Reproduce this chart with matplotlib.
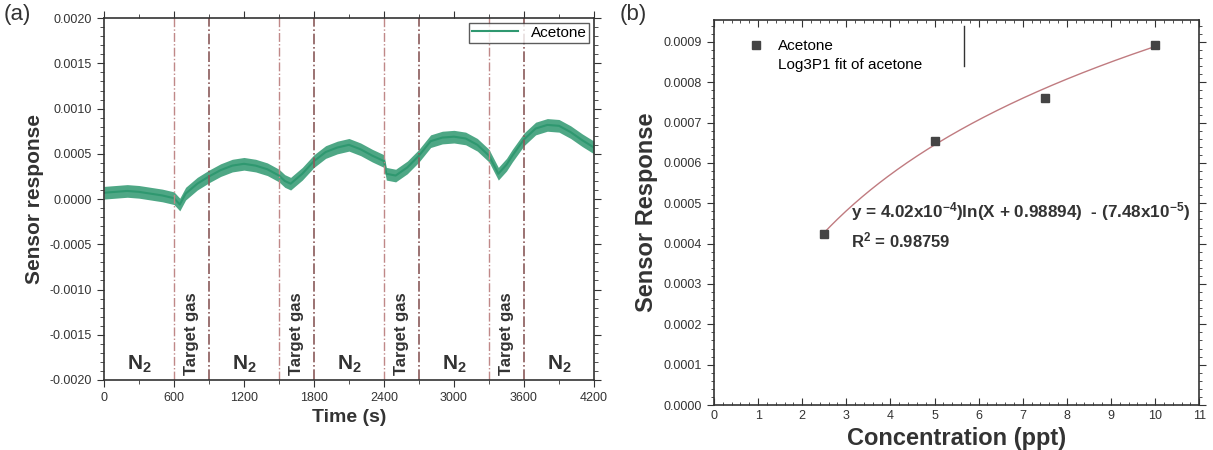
import numpy as np
import matplotlib
matplotlib.use("Agg")
import matplotlib.pyplot as plt
from matplotlib.ticker import MultipleLocator
from matplotlib.lines import Line2D

plt.rcParams['font.family'] = ['Liberation Sans', 'DejaVu Sans']
plt.rcParams['mathtext.fontset'] = 'custom'
plt.rcParams['mathtext.rm'] = 'Liberation Sans'
plt.rcParams['mathtext.it'] = 'Liberation Sans:italic'
plt.rcParams['mathtext.bf'] = 'Liberation Sans:bold'

# ---------------- Data ----------------
time_s = [0, 100, 200, 300, 400, 500, 600, 650, 700, 800, 900, 1000, 1100, 1200,
          1300, 1400, 1500, 1550, 1600, 1700, 1800, 1900, 2000, 2100, 2200, 2300,
          2400, 2420, 2500, 2600, 2700, 2800, 2900, 3000, 3100, 3200, 3300, 3380,
          3450, 3500, 3600, 3700, 3800, 3900, 4000, 4100, 4200]
response = [0.00007, 0.00008, 0.00009, 0.00008, 0.00006, 0.00004, 0.00001, -0.00006,
            0.00006, 0.00017, 0.00025, 0.00032, 0.00037, 0.00039, 0.00037, 0.00033,
            0.00026, 0.00020, 0.00017, 0.00028, 0.00042, 0.00052, 0.00057, 0.00060,
            0.00055, 0.00048, 0.00042, 0.00028, 0.00026, 0.00035, 0.00048, 0.00064,
            0.00068, 0.00069, 0.00067, 0.00060, 0.00048, 0.00028, 0.00038, 0.00048,
            0.00066, 0.00078, 0.00082, 0.00081, 0.00074, 0.00065, 0.00057]
noise_half_width = 0.00007

gas_on = [600, 1500, 2400, 3300]
gas_off = [900, 1800, 2700, 3600]
n2_centers = [300, 1200, 2100, 3000, 3900]
target_centers = [750, 1650, 2550, 3450]

conc_ppt = [2.5, 5.0, 7.5, 10.0]
sensor_resp = [0.000423, 0.000655, 0.000762, 0.000893]
fit_a, fit_b, fit_c = 4.02e-4, 0.98894, -7.48e-5

green = '#2f9870'
ink = '#333333'

fig = plt.figure(figsize=(12.13, 4.5), dpi=100)

# ---------------- Panel (a) ----------------
ax1 = fig.add_axes([0.0857, 0.1556, 0.404, 0.804])
t = np.array(time_s)
r = np.array(response)
ax1.fill_between(t, r - noise_half_width, r + noise_half_width, color=green,
                 alpha=0.85, lw=0)
ax1.plot(t, r, color=green, lw=1.5, label='Acetone')
for x in gas_on:
    ax1.axvline(x, color='#c08888', ls='-.', lw=1.0)
for x in gas_off:
    ax1.axvline(x, color='#8a5a5a', ls='-.', lw=1.2)
for x in n2_centers:
    ax1.text(x, -0.00183, r'N$_{\mathbf{2}}$', ha='center', va='center',
             fontsize=15, fontweight='bold', color=ink)
for x in target_centers:
    ax1.text(x, -0.00195, 'Target gas', rotation=90, ha='center', va='bottom',
             fontsize=12, fontweight='bold', color=ink)
ax1.set_xlim(0, 4200)
ax1.set_ylim(-0.0020, 0.0020)
ax1.xaxis.set_major_locator(MultipleLocator(600))
ax1.xaxis.set_minor_locator(MultipleLocator(300))
ax1.yaxis.set_major_locator(MultipleLocator(0.0005))
ax1.yaxis.set_minor_locator(MultipleLocator(0.0001))
ax1.yaxis.set_major_formatter(matplotlib.ticker.FormatStrFormatter('%.4f'))
ax1.tick_params(which='both', direction='out', top=True, right=True,
                labelsize=9, colors=ink)
ax1.tick_params(which='major', length=5)
ax1.tick_params(which='minor', length=3)
ax1.set_xlabel('Time (s)', fontsize=14, fontweight='bold', color=ink)
ax1.set_ylabel('Sensor response', fontsize=15, fontweight='bold', color=ink)
leg = ax1.legend(loc='upper right', fontsize=11, frameon=True, fancybox=False,
                 edgecolor=ink, handlelength=3, borderaxespad=0.3,
                 borderpad=0.2)
leg.get_frame().set_linewidth(1.0)
for s in ax1.spines.values():
    s.set_color(ink)
    s.set_linewidth(1.2)
fig.text(0.003, 0.955, '(a)', fontsize=16, color=ink)

# ---------------- Panel (b) ----------------
ax2 = fig.add_axes([0.5886, 0.1, 0.40, 0.856])
xs = np.linspace(conc_ppt[0], conc_ppt[-1], 200)
ax2.plot(xs, fit_a * np.log(xs + fit_b) + fit_c, color='#c07b80', lw=1.0)
ax2.plot(conc_ppt, sensor_resp, 's', color='#444444', ms=6)
ax2.set_xlim(0, 11)
ax2.set_ylim(0.0, 0.000955)
ax2.xaxis.set_major_locator(MultipleLocator(1))
ax2.xaxis.set_minor_locator(MultipleLocator(0.2))
ax2.yaxis.set_major_locator(MultipleLocator(0.0001))
ax2.yaxis.set_minor_locator(MultipleLocator(0.00002))
ax2.yaxis.set_major_formatter(matplotlib.ticker.FormatStrFormatter('%.4f'))
ax2.tick_params(which='both', top=True, right=True, labelsize=9, colors=ink)
ax2.tick_params(axis='x', which='both', direction='in')
ax2.tick_params(axis='y', which='both', direction='out')
ax2.tick_params(which='major', length=5)
ax2.tick_params(which='minor', length=2.5)
ax2.set_xlabel('Concentration (ppt)', fontsize=17, fontweight='bold', color=ink)
ax2.set_ylabel('Sensor Response', fontsize=17, fontweight='bold', color=ink)
handles = [Line2D([], [], marker='s', ls='none', color='#444444', ms=6),
           Line2D([], [], ls='none')]
leg2 = ax2.legend(handles, ['Acetone', 'Log3P1 fit of acetone'], loc='upper left',
                  bbox_to_anchor=(0.04, 0.985), fontsize=11, frameon=False,
                  handlelength=1.2, labelspacing=0.3)
ax2.plot([0.515, 0.515], [0.88, 0.985], transform=ax2.transAxes, color=ink, lw=1.0)
ax2.text(3.1, 0.000479,
         r'y = 4.02x10$^{\mathbf{-4}}$)ln(X + 0.98894)  - (7.48x10$^{\mathbf{-5}}$)',
         fontsize=12.3, fontweight='bold', color=ink, va='center')
ax2.text(3.1, 0.000409, r'R$^{\mathbf{2}}$ = 0.98759', fontsize=12,
         fontweight='bold', color=ink, va='center')
for s in ax2.spines.values():
    s.set_color(ink)
    s.set_linewidth(1.2)
fig.text(0.511, 0.955, '(b)', fontsize=16, color=ink)

fig.savefig('out.png', dpi=100)
